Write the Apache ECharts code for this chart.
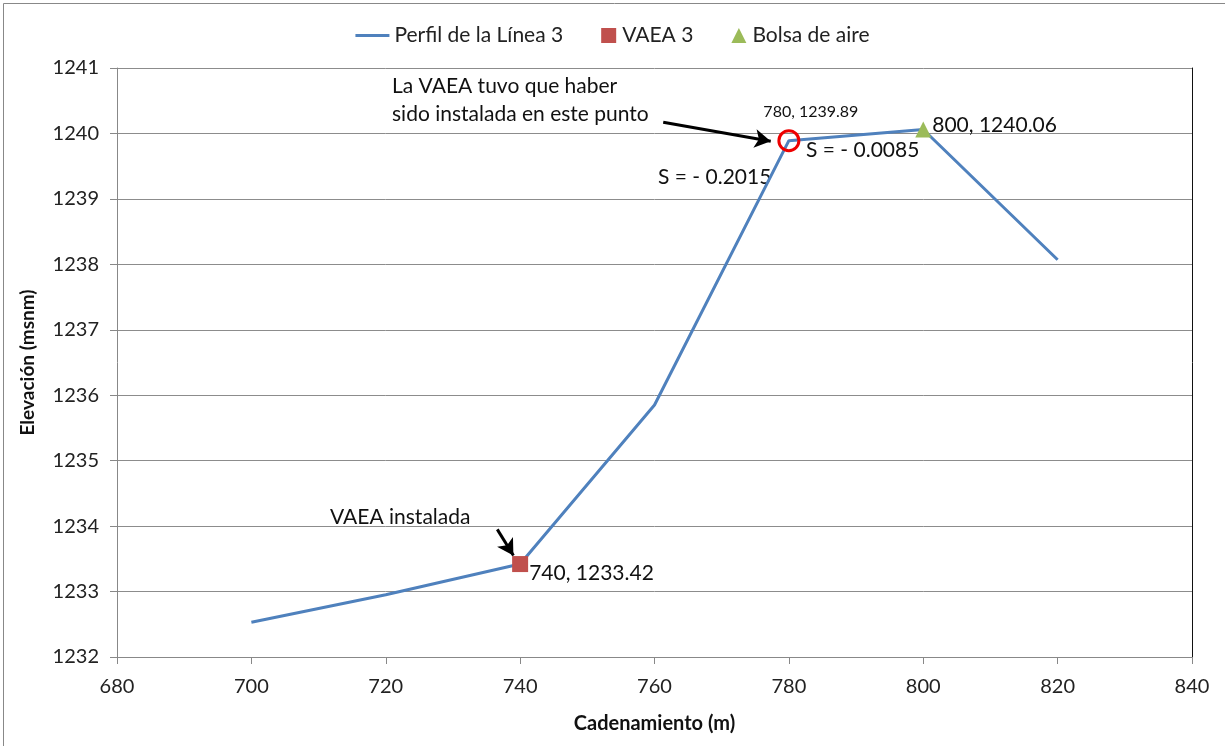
<!DOCTYPE html>
<html lang="es">
<head>
    <meta charset="UTF-8">
    <title>Perfil de la Línea 3</title>
    <script src="https://cdn.jsdelivr.net/npm/echarts@6/dist/echarts.min.js"></script>
</head>
<body style="margin:0">
<div id="main" style="width:1225px;height:746px;"></div>
<script>
    // perfil de la linea 3 (cadenamiento, elevacion)
    const cadenamiento = [700, 720, 740, 760, 780, 800, 820];
    const elevacion = [1232.53, 1232.95, 1233.42, 1235.85, 1239.89, 1240.06, 1238.07];
    const vaea = [[740, 1233.42]];
    const bolsa = [[800, 1240.06]];
    const puntoSugerido = [[780, 1239.89]];
    // flechas de las notas
    const flechaSugerida = [[761.3, 1240.17], [777.3, 1239.88]];
    const flechaInstalada = [[736.6, 1233.95], [739.0, 1233.55]];

    const font = 'Lato, "Open Sans", sans-serif';
    const perfil = cadenamiento.map(function (x, i) {
        return [x, elevacion[i]];
    });
    const etiqueta = function (p) { return p.value[0] + ', ' + p.value[1]; };

    const myChart = echarts.init(document.getElementById('main'));
    const option = {
        backgroundColor: '#fff',
        textStyle: {fontFamily: font},
        animation: false,
        legend: {
            top: 20,
            left: 'center',
            itemGap: 20,
            itemWidth: 34,
            itemHeight: 15,
            textStyle: {fontSize: 21, color: '#222'},
            data: [
                {name: 'Perfil de la Línea 3', icon: 'path://M0,6 L34,6 L34,9 L0,9 Z'},
                {name: 'VAEA 3', icon: 'path://M0,0 M34,15 M18,0 L33,0 L33,15 L18,15 Z', itemStyle: {opacity: 1}},
                {name: 'Bolsa de aire', icon: 'path://M0,0 M34,15 M18,15 L25.5,0 L33,15 Z', itemStyle: {opacity: 1}}
            ]
        },
        grid: {left: 117, right: 33, top: 68, bottom: 89},
        xAxis: {
            type: 'value',
            min: 680,
            max: 840,
            interval: 20,
            name: 'Cadenamiento (m)',
            nameLocation: 'middle',
            nameGap: 57,
            nameTextStyle: {fontSize: 20, fontWeight: 'bold', color: '#111'},
            axisLine: {lineStyle: {color: '#888'}},
            axisTick: {show: true, length: 7, lineStyle: {color: '#888'}},
            axisLabel: {fontSize: 20, color: '#222', margin: 20},
            splitLine: {show: false}
        },
        yAxis: [{
            type: 'value',
            min: 1232,
            max: 1241,
            interval: 1,
            name: 'Elevación (msnm)',
            nameLocation: 'middle',
            nameGap: 80,
            nameTextStyle: {fontSize: 19, fontWeight: 'bold', color: '#111'},
            axisLine: {show: true, lineStyle: {color: '#888'}},
            axisTick: {show: true, length: 7, lineStyle: {color: '#888'}},
            axisLabel: {
                fontSize: 20, color: '#222', margin: 18,
                formatter: function (v) { return String(v); }
            },
            splitLine: {lineStyle: {color: '#8c8c8c'}}
        }, {
            type: 'value',
            min: 1232,
            max: 1241,
            interval: 1,
            position: 'right',
            axisLine: {show: true, lineStyle: {color: '#111'}},
            axisTick: {show: false},
            axisLabel: {show: false},
            splitLine: {show: false}
        }],
        series: [{
            name: 'Perfil de la Línea 3',
            type: 'line',
            data: perfil,
            showSymbol: false,
            color: '#4F81BD',
            lineStyle: {width: 3, color: '#4F81BD'},
            z: 2
        }, {
            name: 'VAEA 3',
            type: 'scatter',
            data: vaea,
            symbol: 'rect',
            symbolSize: 16,
            color: '#C0504D',
            itemStyle: {opacity: 1},
            label: {
                show: true,
                position: 'right',
                offset: [-4, 9],
                fontSize: 21,
                color: '#111',
                formatter: etiqueta
            },
            z: 4
        }, {
            name: 'Bolsa de aire',
            type: 'scatter',
            data: bolsa,
            symbol: 'triangle',
            symbolSize: 16,
            color: '#9BBB59',
            itemStyle: {opacity: 1},
            label: {
                show: true,
                position: 'right',
                offset: [-4, -4],
                fontSize: 21,
                color: '#111',
                formatter: etiqueta
            },
            z: 4
        }, {
            name: 'sugerido',
            type: 'scatter',
            data: puntoSugerido,
            symbol: 'circle',
            symbolSize: 20,
            itemStyle: {color: 'rgba(0,0,0,0)', borderColor: '#e00', borderWidth: 3, opacity: 1},
            label: {
                show: true,
                position: 'top',
                offset: [22, -4],
                fontSize: 16,
                color: '#111',
                formatter: etiqueta
            },
            z: 5
        }, {
            name: 'flechas',
            type: 'line',
            data: [],
            markLine: {
                silent: true,
                symbol: ['none', 'arrow'],
                symbolSize: [14, 16],
                label: {show: false},
                lineStyle: {color: '#000', width: 3, type: 'solid'},
                data: [
                    [{coord: flechaSugerida[0]}, {coord: flechaSugerida[1]}],
                    [{coord: flechaInstalada[0]}, {coord: flechaInstalada[1]}]
                ]
            }
        }],
        graphic: [{
            type: 'rect',
            left: 1, top: 1,
            shape: {width: 1222, height: 743},
            style: {fill: 'none', stroke: '#888', lineWidth: 1}
        }, {
            type: 'text',
            left: 392, top: 72,
            style: {
                text: 'La VAEA tuvo que haber\nsido instalada en este punto',
                font: '21px ' + font,
                fill: '#111',
                lineHeight: 28
            }
        }, {
            type: 'text',
            left: 658, top: 167,
            style: {text: 'S = - 0.2015', font: '21px ' + font, fill: '#111'}
        }, {
            type: 'text',
            left: 806, top: 140,
            style: {text: 'S = - 0.0085', font: '21px ' + font, fill: '#111'}
        }, {
            type: 'text',
            left: 330, top: 507,
            style: {text: 'VAEA instalada', font: '21px ' + font, fill: '#111'}
        }]
    };
    myChart.setOption(option);
</script>
</body>
</html>
